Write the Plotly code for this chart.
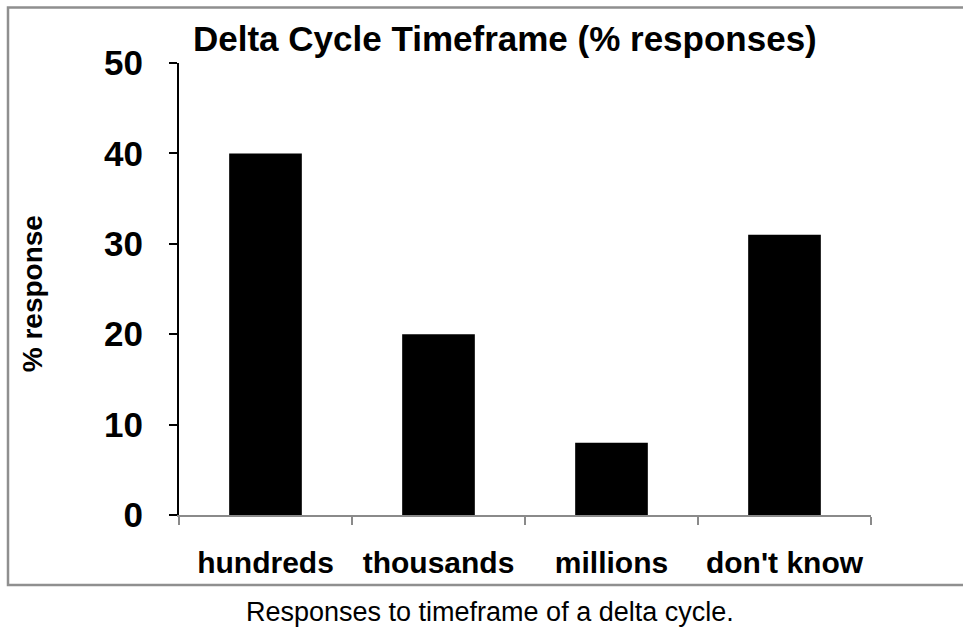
import plotly.graph_objects as go

categories = ["hundreds", "thousands", "millions", "don't know"]
values = [40, 20, 8, 31]
y_ticks = [0, 10, 20, 30, 40, 50]

W, H = 963, 629
L, R, T, B = 179, 871, 62.5, 515.0
pw, ph = R - L, B - T

def px(x):
    return (x - L) / pw

def py(y):
    return (B - y) / ph

sans = "Liberation Sans, Arial, sans-serif"

fig = go.Figure(go.Bar(x=categories, y=values, marker=dict(color="black", line=dict(width=0))))

fig.update_layout(
    width=W, height=H,
    margin=dict(l=L, r=W - R, t=T, b=H - B),
    paper_bgcolor="white", plot_bgcolor="white",
    bargap=0.58,
    showlegend=False,
    xaxis=dict(
        showline=True, linecolor="#8a8a8a", linewidth=2,
        ticks="outside", tickson="boundaries", ticklen=8, tickcolor="#8a8a8a", tickwidth=2,
        showgrid=False, zeroline=False,
        tickfont=dict(family=sans, size=30, color="black", weight="bold"),
        ticklabelstandoff=20,
    ),
    yaxis=dict(
        range=[0, 50], tickvals=y_ticks,
        showline=True, linecolor="black", linewidth=2,
        ticks="outside", ticklen=8, tickcolor="black", tickwidth=2,
        showgrid=False, zeroline=False,
        tickfont=dict(family=sans, size=35, color="black", weight="bold"),
        ticklabelstandoff=19,
    ),
    shapes=[dict(type="rect", xref="paper", yref="paper",
                 x0=px(8), x1=px(966), y0=py(585), y1=py(7),
                 line=dict(color="#8f8f8f", width=2.5), fillcolor="rgba(0,0,0,0)", layer="below")],
    annotations=[
        dict(text="<b>Delta Cycle Timeframe (% responses)</b>", xref="paper", yref="paper",
             x=px(505), y=py(38), showarrow=False, xanchor="center", yanchor="middle",
             font=dict(family=sans, size=35, color="black")),
        dict(text="<b>% response</b>", xref="paper", yref="paper",
             x=px(32), y=py(294), showarrow=False, textangle=-90, xanchor="center", yanchor="middle",
             font=dict(family=sans, size=28, color="black")),
        dict(text="Responses to timeframe of a delta cycle.", xref="paper", yref="paper",
             x=px(490), y=py(612), showarrow=False, xanchor="center", yanchor="middle",
             font=dict(family=sans, size=27, color="black")),
    ],
)

fig.write_html("out.html")
